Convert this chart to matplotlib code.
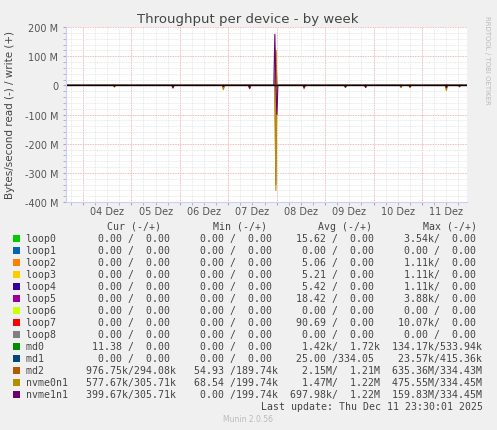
import numpy as np
import matplotlib
matplotlib.use("Agg")
import matplotlib.pyplot as plt
from matplotlib.ticker import MultipleLocator, FixedLocator, NullFormatter

# ---- data (day units: Dec N 00:00 == N) ----
x_start, x_end = 3.65, 11.93
step = 1/48.0
t = np.arange(x_start, x_end, step)

# events: time (days), read MB/s (negative plotted), write MB/s (positive)
md2_times = [4.66, 5.85, 6.89, 7.44, 7.98, 8.56, 9.42, 9.83, 10.56, 10.76, 11.50, 11.77]
md2_read = [5, 8, 12, 10, 340, 9, 7, 7, 6, 7, 14, 5]
md2_write = [1, 1, 1, 1, 120, 1, 1, 1, 1, 1, 2, 1]
nvme0_times = [4.66, 5.85, 6.89, 7.44, 7.98, 8.56, 9.42, 9.83, 10.56, 10.76, 11.50, 11.77]
nvme0_read = [6, 10, 15, 12, 360, 12, 8, 8, 8, 8, 18, 5]
nvme0_write = [1, 1, 1, 1, 120, 1, 1, 1, 1, 1, 2, 1]
nvme1_times = [4.66, 5.85, 6.89, 7.44, 7.96, 8.00, 8.56, 9.42, 9.83, 10.56, 10.76, 11.50, 11.77]
nvme1_read = [3, 8, 4, 10, 0, 100, 8, 6, 7, 3, 4, 8, 3]
nvme1_write = [1, 1, 1, 1, 175, 0, 1, 1, 1, 1, 1, 2, 1]

names = ["loop0","loop1","loop2","loop3","loop4","loop5","loop6","loop7","loop8",
         "md0","md1","md2","nvme0n1","nvme1n1"]
colors = ["#00CC00","#0066B3","#FF8000","#FFCC00","#330099","#990099","#CCFF00",
          "#FF0000","#808080","#008F00","#00487D","#B35A00","#B38F00","#6B006B"]
cur = ["  0.00 /  0.00 "]*9 + [" 11.38 /  0.00 ","  0.00 /  0.00 ","976.75k/294.08k","577.67k/305.71k","399.67k/305.71k"]
mins = ["  0.00 /  0.00 "]*11 + [" 54.93 /189.74k"," 68.54 /199.74k","  0.00 /199.74k"]
avgs = [" 15.62 /  0.00 ","  0.00 /  0.00 ","  5.06 /  0.00 ","  5.21 /  0.00 ","  5.42 /  0.00 ",
        " 18.42 /  0.00 ","  0.00 /  0.00 "," 90.69 /  0.00 ","  0.00 /  0.00 ","  1.42k/  1.72k",
        " 25.00 /334.05 ","  2.15M/  1.21M","  1.47M/  1.22M","697.98k/  1.22M"]
maxs = ["  3.54k/  0.00 ","  0.00 /  0.00 ","  1.11k/  0.00 ","  1.11k/  0.00 ","  1.11k/  0.00 ",
        "  3.88k/  0.00 ","  0.00 /  0.00 "," 10.07k/  0.00 ","  0.00 /  0.00 ","134.17k/533.94k",
        " 23.57k/415.36k","635.36M/334.43M","475.55M/334.45M","159.83M/334.45M"]
day_labels = ["04 Dez","05 Dez","06 Dez","07 Dez","08 Dez","09 Dez","10 Dez","11 Dez"]

def series(times, vals):
    s = np.zeros_like(t)
    for tt, v in zip(times, vals):
        s[int(round((tt - x_start) / step))] = v
    return s

W, H = 497, 431
fig = plt.figure(figsize=(W/100, H/100), dpi=100, facecolor="#F0F0F0")
ax = fig.add_axes([66/W, 1-203/H, 401/W, 175/H], facecolor="white")

for times, rd, wr, c in [(md2_times, md2_read, md2_write, "#B35A00"),
                         (nvme0_times, nvme0_read, nvme0_write, "#B38F00"),
                         (nvme1_times, nvme1_read, nvme1_write, "#6B006B")]:
    ax.plot(t, -series(times, rd)*1e6, color=c, lw=0.8)
    ax.plot(t, series(times, wr)*1e6, color=c, lw=0.8)
ax.axhline(0, color="black", lw=1.0)

ax.set_xlim(x_start, x_end)
ax.set_ylim(-400e6, 200e6)
ax.yaxis.set_major_locator(MultipleLocator(100e6))
ax.yaxis.set_minor_locator(MultipleLocator(20e6))
ax.set_yticks(np.arange(-400e6, 201e6, 100e6))
ax.set_yticklabels(["-400 M","-300 M","-200 M","-100 M","0","100 M","200 M"])
ax.xaxis.set_major_locator(FixedLocator(np.arange(4, 12)))
ax.xaxis.set_minor_locator(MultipleLocator(0.25))
ax.xaxis.set_major_formatter(NullFormatter())
for i, lab in enumerate(day_labels):
    ax.text(4.5 + i, -0.025, lab, transform=ax.get_xaxis_transform(), ha="center", va="top",
            fontsize=7, color="#555555")
ax.grid(which="minor", color="#DDDDDD", ls=(0, (1, 1)), lw=0.5)
ax.grid(which="major", color="#F0A0A0", ls=(0, (1, 1)), lw=0.6)
ax.tick_params(which="both", length=2, colors="#AAAAAA", labelcolor="#555555", labelsize=7)
for sp in ax.spines.values():
    sp.set_visible(False)
ax.spines["left"].set_visible(True); ax.spines["left"].set_color("#CCCCFF")
ax.spines["bottom"].set_visible(True); ax.spines["bottom"].set_color("#CCCCFF")

fig.text(248/W, 1-20/H, "Throughput per device - by week", ha="center", va="center",
         fontsize=9.5, color="#444444")
fig.text(10/W, 1-115/H, "Bytes/second read (-) / write (+)", rotation=90, ha="center",
         va="center", fontsize=7.5, color="#444444")
fig.text(487/W, 1-60/H, "RRDTOOL / TOBI OETIKER", rotation=270, ha="center", va="center",
         fontsize=5, color="#BBBBBB")

mono = dict(family="DejaVu Sans Mono", fontsize=7.1, color="#444444", va="center")
cw = 6.0
for txt, col in [("Cur (-/+)", 13.5), ("Min (-/+)", 31.1), ("Avg (-/+)", 48.6), ("Max (-/+)", 66.1)]:
    fig.text((26 + col*cw)/W - 0.0, 1-227/H, txt, ha="left", **mono)
for i, n in enumerate(names):
    y = 1 - (239 + 12*i)/H
    fig.patches.append(plt.Rectangle((13/W, y-3.5/H), 7/W, 7/H, transform=fig.transFigure,
                                     facecolor=colors[i], edgecolor="none"))
    line = f"{n:<10}{cur[i]}  {mins[i]}  {avgs[i]}  {maxs[i]}"
    fig.text(26/W, y, line, ha="left", **mono)
fig.text(483/W, 1-407/H, "Last update: Thu Dec 11 23:30:01 2025", ha="right", **mono)
fig.text(248/W, 1-420/H, "Munin 2.0.56", ha="center", va="center", fontsize=5.5, color="#BBBBBB")

fig.savefig("out.png", dpi=100, facecolor=fig.get_facecolor())
